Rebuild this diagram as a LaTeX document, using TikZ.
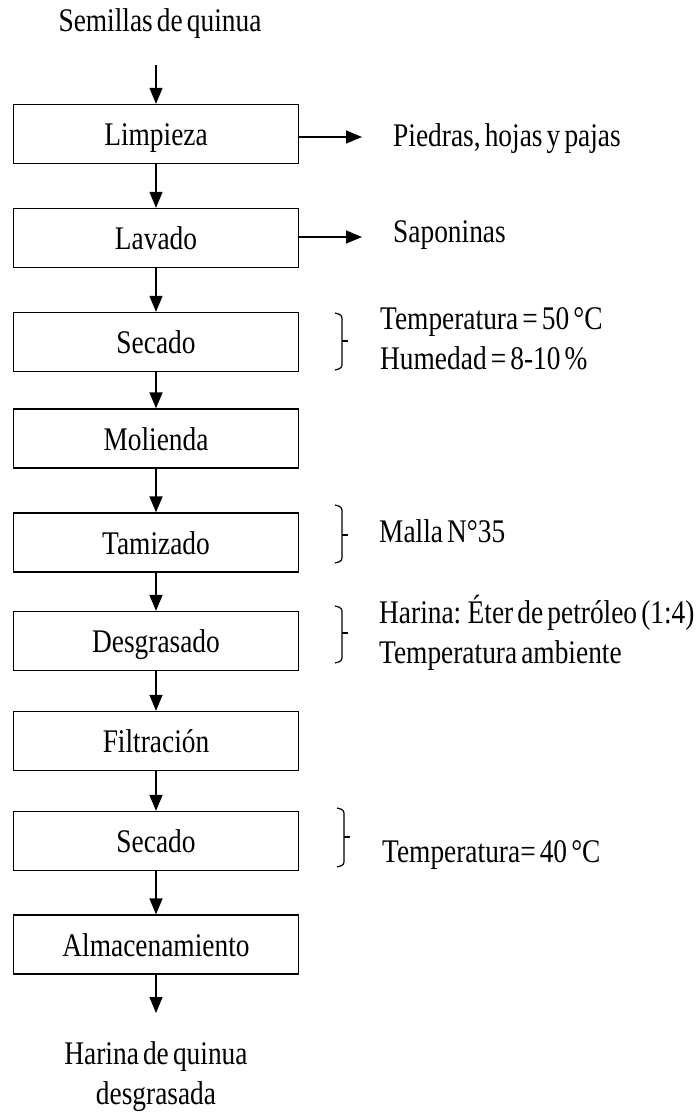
\documentclass[tikz,border=0pt]{standalone}
\usepackage{fontspec}
\setmainfont[FakeStretch=0.83, WordSpace=0.6]{Liberation Serif}
\usetikzlibrary{arrows.meta}
\tikzset{
  stage/.style={draw, line width=1.3pt, minimum width=285pt, minimum height=59pt,
    text height=23pt, text depth=0pt, inner sep=0pt},
  flow/.style={line width=1.3pt, -{Triangle[width=13pt,length=16pt]}},
  note/.style={anchor=base west, inner sep=0pt, align=left},
  brace/.style={line width=1.2pt, rounded corners=3pt},
}
\begin{document}
\begin{tikzpicture}[x=1pt, y=-1pt, font=\fontsize{33}{40}\selectfont]
\useasboundingbox (0,0) rectangle (696,1115);

% main process line
\node[anchor=base, inner sep=0pt] (seeds) at (160,32) {Semillas de quinua};
\coordinate (in) at (156,65);
\node[stage] (lim)  at (156,134)   {Limpieza};
\node[stage] (lav)  at (156,238)   {Lavado};
\node[stage] (sec1) at (156,342)   {Secado};
\node[stage] (mol)  at (156,438.5) {Molienda};
\node[stage] (tam)  at (156,542.5) {Tamizado};
\node[stage] (des)  at (156,641)   {Desgrasado};
\node[stage] (fil)  at (156,741)   {Filtración};
\node[stage] (sec2) at (156,841)   {Secado};
\node[stage] (alm)  at (156,944.5) {Almacenamiento};
\coordinate (out) at (156,1013);
% multi-line notes are placed by the baseline of their last line
\node[anchor=base, align=center, inner sep=0pt] (flour) at (156,1104)
  {Harina de quinua\\desgrasada};

\draw[flow] (in) -- (lim);
\draw[flow] (lim) -- (lav);
\draw[flow] (lav) -- (sec1);
\draw[flow] (sec1) -- (mol);
\draw[flow] (mol) -- (tam);
\draw[flow] (tam) -- (des);
\draw[flow] (des) -- (fil);
\draw[flow] (fil) -- (sec2);
\draw[flow] (sec2) -- (alm);
\draw[flow] (alm) -- (out);

% by-products
\coordinate (w1) at (362,137);
\coordinate (w2) at (362,237);
\draw[flow] (lim.east |- w1) -- (w1);
\draw[flow] (lav.east |- w2) -- (w2);
\node[note] (waste1) at (393,147) {Piedras, hojas y pajas};
\node[note] (waste2) at (393,243) {Saponinas};

% operating conditions
\draw[brace] (335,313) -- (342,315) -- (342,368) -- (335,370);
\draw[line width=1.2pt] (342,341) -- (348,341);
\node[note] (cond1) at (380,369) {Temperatura = 50 °C\\Humedad = 8-10 \%};

\draw[brace] (335,505) -- (342,507) -- (342,561) -- (335,563);
\draw[line width=1.2pt] (342,535) -- (348,535);
\node[note] (cond2) at (379,542) {Malla N°35};

\draw[brace] (335,606) -- (342,608) -- (342,661) -- (335,663);
\draw[line width=1.2pt] (342,633) -- (348,633);
\node[note] (cond3) at (379,663) {Harina: Éter de petróleo (1:4)\\Temperatura ambiente};

\draw[brace] (337,808) -- (344,810) -- (344,865) -- (337,867);
\draw[line width=1.2pt] (344,837) -- (350,837);
\node[note] (cond4) at (382,862) {Temperatura= 40 °C};
\end{tikzpicture}
\end{document}
